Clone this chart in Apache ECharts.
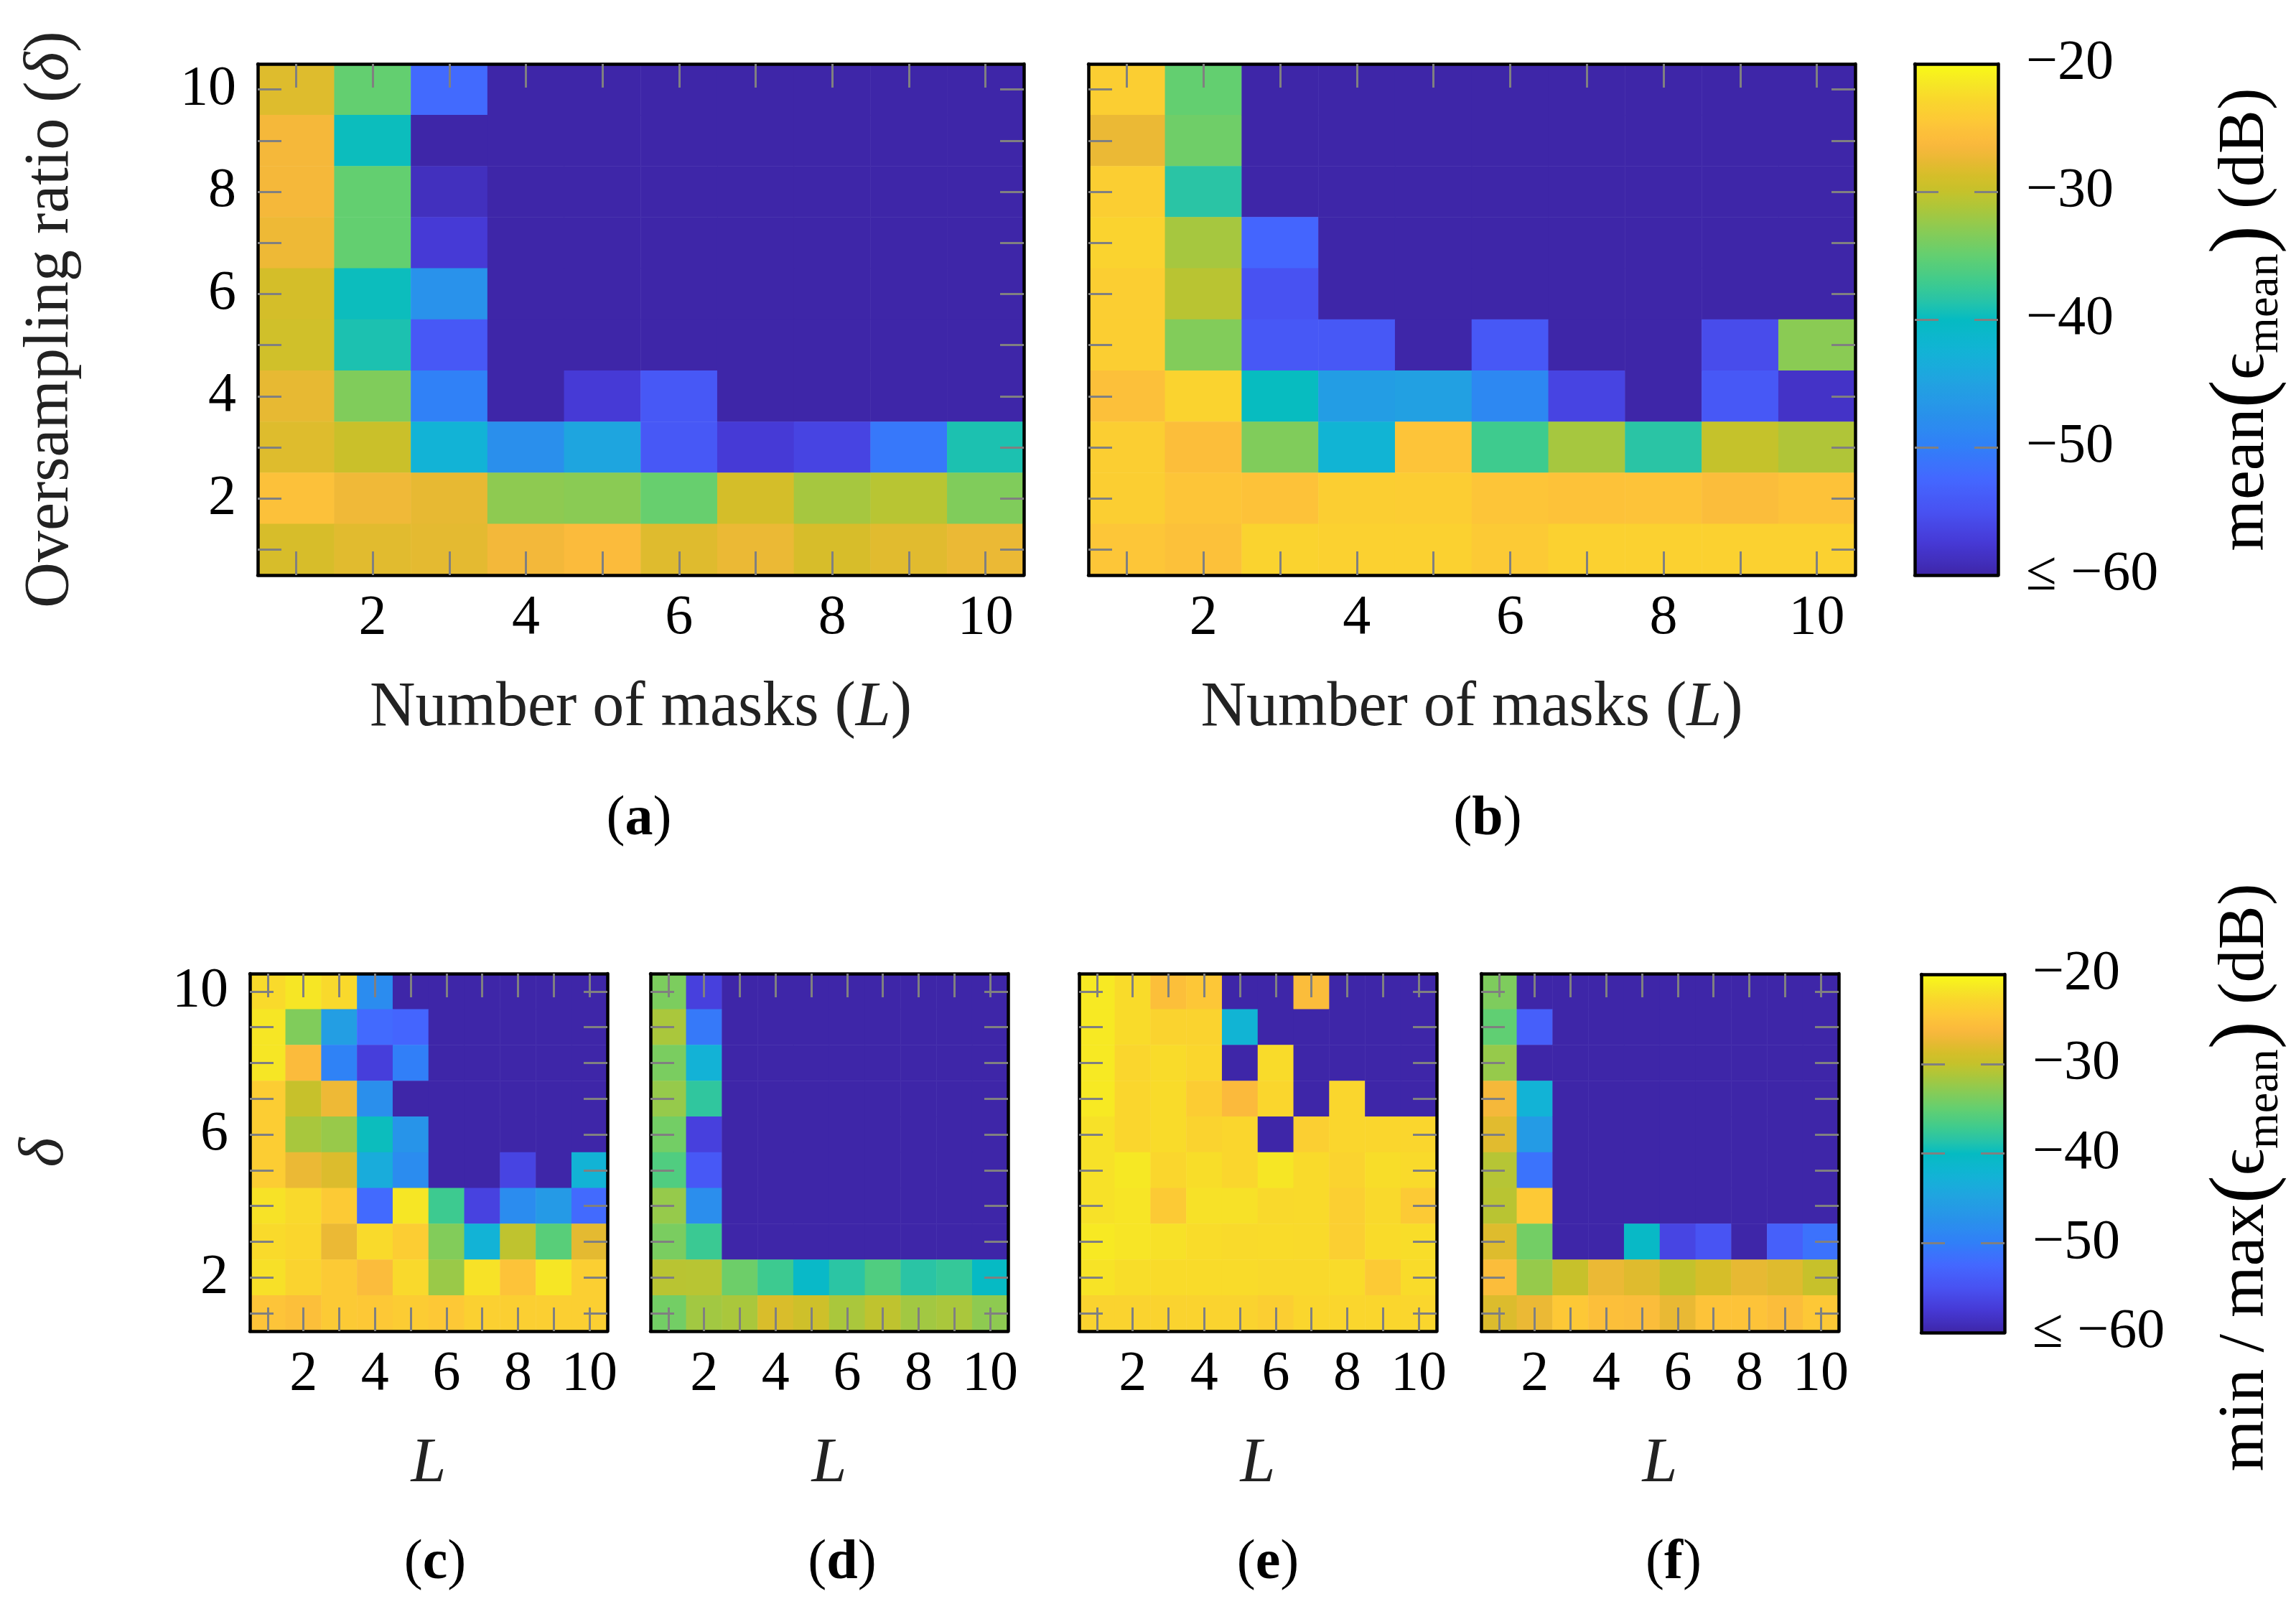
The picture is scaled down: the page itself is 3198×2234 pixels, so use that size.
<!DOCTYPE html>
<html>
<head>
<meta charset="utf-8">
<script src="https://cdn.jsdelivr.net/npm/echarts@6/dist/echarts.min.js"></script>
<style>
  html, body { margin: 0; background: #fff; }
  #chart { width: 3198px; height: 2234px; }
</style>
</head>
<body>
<div id="chart"></div>
<script>
// axes: number of masks L (x) and oversampling ratio delta (y), 1..10
const masks = ['1', '2', '3', '4', '5', '6', '7', '8', '9', '10'];
const ratios = ['1', '2', '3', '4', '5', '6', '7', '8', '9', '10'];

// error in dB, rows from delta = 10 (top) down to delta = 1, columns L = 1..10
// -60 means "<= -60"
const meanA = [
  [-28.2, -35.0, -52.2, -60, -60, -60, -60, -60, -60, -60],
  [-26.7, -39.7, -60, -60, -60, -60, -60, -60, -60, -60],
  [-26.7, -35.0, -58.8, -60, -60, -60, -60, -60, -60, -60],
  [-27.2, -35.0, -57.4, -60, -60, -60, -60, -60, -60, -60],
  [-28.8, -39.7, -47.4, -60, -60, -60, -60, -60, -60, -60],
  [-29.2, -39.0, -54.2, -60, -60, -60, -60, -60, -60, -60],
  [-27.6, -33.5, -49.8, -60, -57.4, -54.2, -60, -60, -60, -60],
  [-28.2, -29.6, -42.5, -47.8, -44.5, -54.2, -57.4, -56.4, -50.7, -39.0],
  [-25.3, -27.0, -27.6, -32.8, -33.0, -34.8, -28.8, -31.6, -30.7, -33.5],
  [-28.6, -28.0, -27.8, -26.8, -26.0, -28.1, -27.4, -28.6, -28.0, -27.4]
];
const meanB = [
  [-23.8, -35.0, -60, -60, -60, -60, -60, -60, -60, -60],
  [-27.4, -34.4, -60, -60, -60, -60, -60, -60, -60, -60],
  [-23.8, -38.4, -60, -60, -60, -60, -60, -60, -60, -60],
  [-23.3, -31.6, -52.8, -60, -60, -60, -60, -60, -60, -60],
  [-23.8, -30.6, -55.0, -60, -60, -60, -60, -60, -60, -60],
  [-23.8, -33.4, -54.2, -54.2, -60, -54.2, -60, -60, -55.6, -33.0],
  [-25.4, -23.2, -39.9, -45.8, -45.2, -48.7, -56.4, -60, -54.2, -58.3],
  [-23.8, -25.6, -33.5, -42.2, -24.9, -37.1, -31.6, -38.4, -30.0, -31.1],
  [-23.8, -24.8, -25.1, -23.8, -23.9, -24.8, -25.1, -25.0, -25.8, -25.1],
  [-24.7, -25.2, -23.3, -23.5, -23.5, -24.2, -23.5, -23.5, -23.5, -23.5]
];
const extremeC = [
  [-22.6, -21.6, -22.7, -48.3, -60, -60, -60, -60, -60, -60],
  [-21.6, -33.5, -45.6, -52.2, -52.8, -60, -60, -60, -60, -60],
  [-21.6, -26.0, -49.6, -57.0, -50.0, -60, -60, -60, -60, -60],
  [-23.9, -29.8, -27.2, -47.8, -60, -60, -60, -60, -60, -60],
  [-23.9, -31.5, -32.3, -39.7, -47.0, -60, -60, -60, -60, -60],
  [-23.9, -27.4, -28.3, -43.6, -48.3, -60, -60, -56.4, -60, -42.4],
  [-21.9, -22.7, -24.3, -52.2, -21.6, -37.2, -56.6, -48.3, -46.2, -52.2],
  [-22.6, -22.9, -27.4, -22.6, -23.9, -33.4, -42.5, -30.3, -35.6, -27.8],
  [-22.1, -23.2, -24.2, -25.9, -22.7, -32.2, -21.9, -25.0, -21.6, -23.7],
  [-24.9, -25.5, -24.2, -24.5, -24.0, -24.5, -23.6, -23.7, -23.7, -23.7]
];
const extremeD = [
  [-33.7, -56.8, -60, -60, -60, -60, -60, -60, -60, -60],
  [-31.4, -50.6, -60, -60, -60, -60, -60, -60, -60, -60],
  [-33.8, -42.6, -60, -60, -60, -60, -60, -60, -60, -60],
  [-32.4, -38.0, -60, -60, -60, -60, -60, -60, -60, -60],
  [-34.2, -56.8, -60, -60, -60, -60, -60, -60, -60, -60],
  [-36.1, -54.3, -60, -60, -60, -60, -60, -60, -60, -60],
  [-32.4, -47.9, -60, -60, -60, -60, -60, -60, -60, -60],
  [-33.8, -37.4, -60, -60, -60, -60, -60, -60, -60, -60],
  [-30.6, -30.7, -34.5, -37.2, -40.7, -38.3, -36.1, -38.4, -37.7, -40.3],
  [-34.2, -31.8, -31.4, -28.5, -29.3, -31.4, -30.3, -31.8, -31.4, -32.8]
];
const extremeE = [
  [-21.3, -22.5, -25.5, -24.6, -60, -60, -25.7, -60, -60, -60],
  [-21.3, -22.5, -23.3, -23.3, -42.2, -60, -60, -60, -60, -60],
  [-21.3, -22.9, -22.5, -22.9, -60, -22.5, -60, -60, -60, -60],
  [-21.3, -22.9, -22.5, -24.0, -26.1, -22.9, -60, -22.9, -60, -60],
  [-22.0, -22.9, -22.5, -23.3, -22.9, -60, -23.7, -22.9, -22.9, -22.9],
  [-22.0, -21.4, -22.9, -22.3, -22.9, -21.6, -22.6, -23.3, -22.3, -22.6],
  [-22.0, -21.7, -24.2, -22.0, -22.0, -22.7, -22.6, -23.7, -22.7, -24.2],
  [-21.3, -21.7, -22.0, -22.4, -22.6, -22.5, -22.6, -23.7, -22.5, -22.3],
  [-21.8, -22.3, -22.5, -22.5, -22.5, -22.7, -22.7, -22.5, -24.2, -22.5],
  [-23.2, -23.2, -23.2, -23.2, -23.3, -23.8, -22.9, -22.9, -22.9, -22.9]
];
const extremeF = [
  [-33.6, -60, -60, -60, -60, -60, -60, -60, -60, -60],
  [-35.2, -53.5, -60, -60, -60, -60, -60, -60, -60, -60],
  [-32.4, -60, -60, -60, -60, -60, -60, -60, -60, -60],
  [-26.7, -42.5, -60, -60, -60, -60, -60, -60, -60, -60],
  [-28.0, -46.0, -60, -60, -60, -60, -60, -60, -60, -60],
  [-30.8, -51.2, -60, -60, -60, -60, -60, -60, -60, -60],
  [-30.6, -24.4, -60, -60, -60, -60, -60, -60, -60, -60],
  [-28.2, -34.2, -60, -60, -40.5, -56.3, -54.8, -60, -53.4, -51.4],
  [-25.8, -32.4, -29.8, -27.4, -28.1, -30.1, -28.7, -27.6, -28.1, -29.8],
  [-28.3, -27.4, -24.5, -25.5, -25.8, -27.5, -25.0, -25.0, -25.8, -24.5]
];

// colour scale range, colorbar labels and the inner colorbar ticks
const scaleMin = -60;
const scaleMax = -20;
const scaleStep = 10;
const barInnerTicks = [-50, -40, -30];

// parula-like colormap: [dB, colour]
const parula = [
  [-60, '#3E26A8'], [-57.5, '#4639D5'], [-55, '#4852F2'], [-52.5, '#4467FF'],
  [-50, '#317FF8'], [-47.5, '#2991EB'], [-45, '#21A2E1'], [-42.5, '#12B3D6'],
  [-40, '#05BBC2'], [-38.5, '#28C4A7'], [-37, '#40CB8C'], [-35, '#63CF70'],
  [-33, '#8ACB54'], [-31.5, '#A8C73D'], [-30, '#C5C22B'], [-28.7, '#D6BE29'],
  [-27.5, '#E9B934'], [-26.3, '#FAB83D'], [-24.8, '#FDC538'], [-23, '#FAD52D'],
  [-21.5, '#F6E725'], [-20, '#F9FB15']
];

// visualMap wants evenly spaced colours, so resample the stops
function rgb(h) {
  return [1, 3, 5].map(i => parseInt(h.slice(i, i + 2), 16));
}
function evenColors(stops, n) {
  const lo = stops[0][0], hi = stops[stops.length - 1][0];
  const out = [];
  for (let i = 0; i < n; i++) {
    const v = lo + (hi - lo) * i / (n - 1);
    let k = 0;
    while (k < stops.length - 2 && v > stops[k + 1][0]) k++;
    const t = (v - stops[k][0]) / (stops[k + 1][0] - stops[k][0]);
    const a = rgb(stops[k][1]), b = rgb(stops[k + 1][1]);
    const c = a.map((x, j) => Math.round(x + (b[j] - x) * t));
    out.push('rgb(' + c.join(',') + ')');
  }
  return out;
}
const colors = evenColors(parula, 161);

const FONT = "'Liberation Serif', 'DejaVu Serif', serif";
const FS = 78;   // tick labels
const TS = 88;   // axis titles
const rich = {
  n: { fontFamily: FONT, fontSize: TS, color: '#222' },
  i: { fontFamily: FONT, fontSize: TS, color: '#222', fontStyle: 'italic' }
};

const panels = [
  { rows: meanA, box: [359, 89, 1067, 712], yLabelEvery: 2, yName: '{n|Oversampling ratio (}{i|δ}{n|)}', yGap: 244, xName: '{n|Number of masks (}{i|L}{n|)}' },
  { rows: meanB, box: [1516, 89, 1068, 712], yLabelEvery: 0, yName: '', xName: '{n|Number of masks (}{i|L}{n|)}' },
  { rows: extremeC, box: [348, 1356, 498, 498], yLabelEvery: 4, yName: '{i|δ}', yGap: 240, xName: '{i|L}' },
  { rows: extremeD, box: [906, 1356, 498, 498], yLabelEvery: 0, yName: '', xName: '{i|L}' },
  { rows: extremeE, box: [1503, 1356, 498, 498], yLabelEvery: 0, yName: '', xName: '{i|L}' },
  { rows: extremeF, box: [2063, 1356, 498, 498], yLabelEvery: 0, yName: '', xName: '{i|L}' }
];

const edgeLine = { show: true, onZero: false, lineStyle: { color: '#000', width: 4.5 } };
const tickIn = { show: true, inside: true, alignWithLabel: true, interval: 0, length: 33, lineStyle: { color: '#808080', width: 3 } };
const labelStyle = { fontFamily: FONT, fontSize: FS, color: '#000' };

const grid = [], xAxis = [], yAxis = [], series = [];

panels.forEach((p, i) => {
  grid.push({ left: p.box[0], top: p.box[1], width: p.box[2], height: p.box[3] });
  xAxis.push({
    type: 'category', gridIndex: i, data: masks, position: 'bottom', z: 10,
    axisLine: edgeLine, axisTick: tickIn,
    axisLabel: Object.assign({ interval: (idx) => idx % 2 === 1, margin: 22 }, labelStyle),
    name: p.xName, nameLocation: 'middle', nameGap: 142, nameTextStyle: { rich: rich },
    splitLine: { show: false }
  });
  xAxis.push({
    type: 'category', gridIndex: i, data: masks, position: 'top', z: 10,
    axisLine: edgeLine, axisTick: tickIn, axisLabel: { show: false }, splitLine: { show: false }
  });
  const every = p.yLabelEvery;
  yAxis.push({
    type: 'category', gridIndex: i, data: ratios, position: 'left', z: 10,
    axisLine: edgeLine, axisTick: tickIn,
    axisLabel: Object.assign({ show: every > 0, interval: (idx) => every > 0 && idx % every === 1, margin: 30 }, labelStyle),
    name: p.yName, nameLocation: 'middle', nameGap: p.yGap || 0, nameTextStyle: { rich: rich },
    splitLine: { show: false }
  });
  yAxis.push({
    type: 'category', gridIndex: i, data: ratios, position: 'right', z: 10,
    axisLine: edgeLine, axisTick: tickIn, axisLabel: { show: false }, splitLine: { show: false }
  });
  const data = [];
  p.rows.forEach((row, r) => {
    row.forEach((v, c) => data.push([c, ratios.length - 1 - r, v]));
  });
  series.push({
    type: 'heatmap', xAxisIndex: 2 * i, yAxisIndex: 2 * i, data: data,
    itemStyle: { borderWidth: 0 }, emphasis: { disabled: true }, silent: true, progressive: 0
  });
});

// colorbar frames with ticks and labels, drawn over the visualMap bars
const bars = [[2667, 89, 116, 712], [2676, 1357, 116, 499]];
const barTick = { show: true, inside: true, length: 33, customValues: barInnerTicks, lineStyle: { color: '#808080', width: 3 } };
bars.forEach((b) => {
  const gi = grid.length;
  grid.push({ left: b[0], top: b[1], width: b[2], height: b[3] });
  ['bottom', 'top'].forEach((pos) => xAxis.push({
    type: 'value', gridIndex: gi, position: pos, min: 0, max: 1, z: 10,
    axisLine: edgeLine, axisTick: { show: false }, axisLabel: { show: false }, splitLine: { show: false }
  }));
  yAxis.push({
    type: 'value', gridIndex: gi, position: 'left', min: scaleMin, max: scaleMax, interval: scaleStep, z: 10,
    axisLine: edgeLine, axisTick: barTick, axisLabel: { show: false }, splitLine: { show: false }
  });
  yAxis.push({
    type: 'value', gridIndex: gi, position: 'right', min: scaleMin, max: scaleMax, interval: scaleStep, z: 10,
    axisLine: edgeLine, axisTick: barTick, splitLine: { show: false },
    axisLabel: Object.assign({
      margin: 39, showMinLabel: true, showMaxLabel: true,
      formatter: (v) => (v === scaleMin ? '≤ −' : '−') + Math.abs(v)
    }, labelStyle)
  });
});

const visualMap = [
  { seriesIndex: [0, 1], left: bars[0][0], top: bars[0][1], itemWidth: bars[0][2], itemHeight: bars[0][3] },
  { seriesIndex: [2, 3, 4, 5], left: bars[1][0], top: bars[1][1], itemWidth: bars[1][2], itemHeight: bars[1][3] }
].map((v) => Object.assign({
  type: 'continuous', min: scaleMin, max: scaleMax, orient: 'vertical', calculable: false,
  padding: 0, text: null, inRange: { color: colors }, hoverLink: false
}, v));

const capRich = {
  n: { fontFamily: FONT, fontSize: FS, color: '#000' },
  b: { fontFamily: FONT, fontSize: FS, color: '#000', fontWeight: 'bold' },
  s: { fontFamily: FONT, fontSize: 64, color: '#222', verticalAlign: 'bottom', lineHeight: 118 },
  t: { fontFamily: FONT, fontSize: 92, color: '#222', verticalAlign: 'middle', lineHeight: 118 },
  p: { fontFamily: FONT, fontSize: 118, color: '#222', verticalAlign: 'middle', lineHeight: 118 }
};
const captions = [['a', 890, 1142], ['b', 2072, 1142], ['c', 606, 2178], ['d', 1173, 2178], ['e', 1766, 2178], ['f', 2331, 2178]];
const graphic = captions.map((c) => ({
  type: 'text', x: c[1], y: c[2],
  style: { text: '{n|(}{b|' + c[0] + '}{n|)}', rich: capRich, align: 'center', verticalAlign: 'middle' }
}));
graphic.push({
  type: 'text', x: 3128, y: 445, rotation: Math.PI / 2,
  style: { text: '{t|mean}{p|(}{t|ϵ}{s|mean}{p|)}{t| (dB)}', rich: capRich, align: 'center', verticalAlign: 'middle' }
});
graphic.push({
  type: 'text', x: 3128, y: 1640, rotation: Math.PI / 2,
  style: { text: '{t|min / max}{p|(}{t|ϵ}{s|mean}{p|)}{t| (dB)}', rich: capRich, align: 'center', verticalAlign: 'middle' }
});

const chart = echarts.init(document.getElementById('chart'));
chart.setOption({
  animation: false,
  backgroundColor: '#fff',
  grid, xAxis, yAxis, series, visualMap, graphic
});
</script>
</body>
</html>
